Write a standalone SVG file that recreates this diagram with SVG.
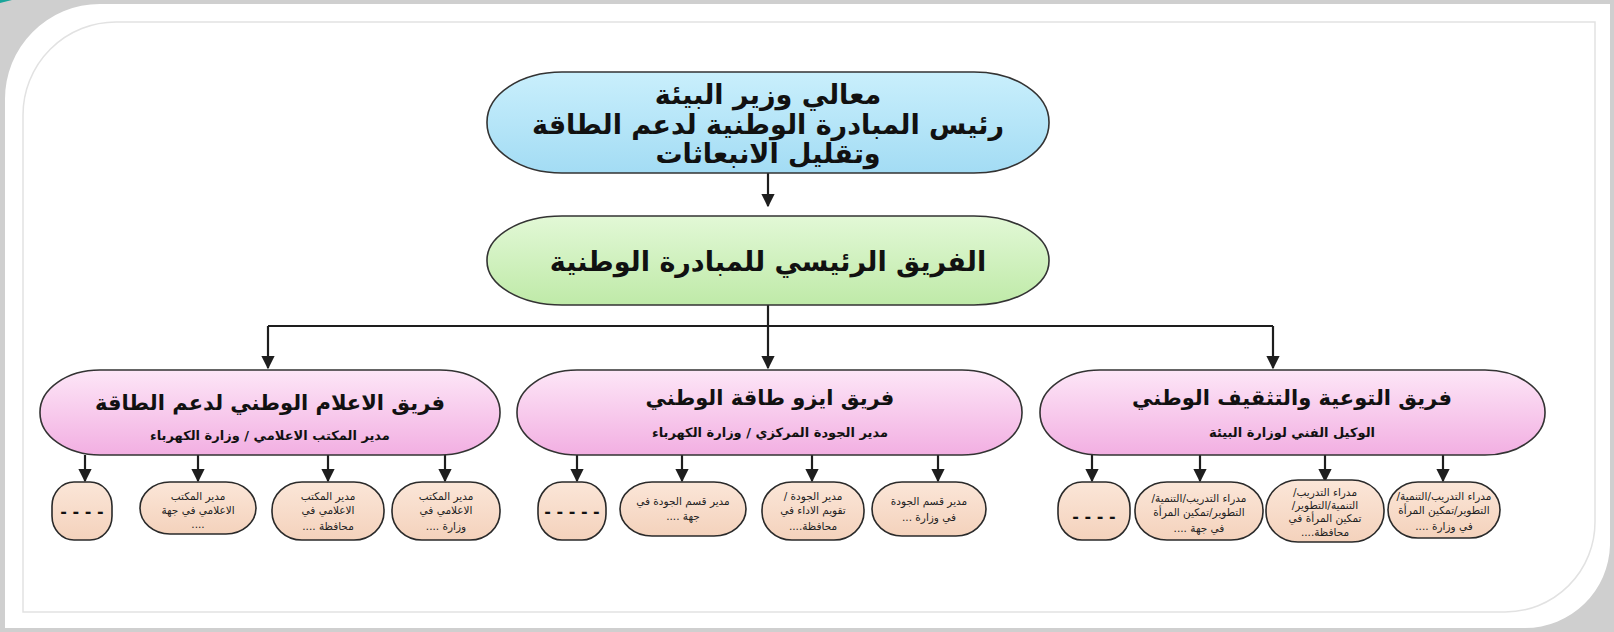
<svg xmlns="http://www.w3.org/2000/svg" width="1614" height="632" viewBox="0 0 1614 632">
<defs>
<linearGradient id="gBlue" x1="0" y1="0" x2="0" y2="1"><stop offset="0" stop-color="#c9effc"/><stop offset="1" stop-color="#a3dcf4"/></linearGradient>
<linearGradient id="gGreen" x1="0" y1="0" x2="0" y2="1"><stop offset="0" stop-color="#e2f8d6"/><stop offset="1" stop-color="#bfeaa8"/></linearGradient>
<linearGradient id="gPink" x1="0" y1="0" x2="0" y2="1"><stop offset="0" stop-color="#fde6f7"/><stop offset="1" stop-color="#f2afe2"/></linearGradient>
<linearGradient id="gPeach" x1="0" y1="0" x2="0" y2="1"><stop offset="0" stop-color="#fbe6d8"/><stop offset="1" stop-color="#f4d2bc"/></linearGradient>
<marker id="arr" viewBox="0 0 10 10" refX="9" refY="5" markerWidth="6" markerHeight="6" orient="auto" markerUnits="strokeWidth"><path d="M0,0 L10,5 L0,10 z" fill="#1e1e1e"/></marker>
</defs>
<style>
.t{font-family:"DejaVu Sans",sans-serif;font-weight:bold;fill:#111;text-anchor:middle;direction:rtl;unicode-bidi:embed}
.big{font-size:27px}
.mid{font-size:21px}
.sub{font-size:13px}
.leaf{font-size:10.5px;font-weight:normal;fill:#222}
.dash{font-size:16px;font-weight:bold;fill:#111}
.nb{stroke:#333;stroke-width:1.6}
.lf{fill:url(#gPeach);stroke:#2a2a2a;stroke-width:1.6}
.c{stroke:#1e1e1e;stroke-width:2.2;fill:none}
.c2{stroke:#1e1e1e;stroke-width:2.2;fill:none;marker-end:url(#arr)}
</style>
<rect width="1614" height="632" fill="#cfcfcf"/>
<path d="M0 0 L12 0 L0 3 Z" fill="#1aa59a"/>
<path d="M5 100 A95 95 0 0 1 100 4 L1610 4 L1610 545 A85 85 0 0 1 1525 628 L5 628 Z" fill="#ffffff"/>
<path d="M23 115 A93 93 0 0 1 116 22 L1595 22 L1595 522 A90 90 0 0 1 1505 612 L23 612 Z" fill="none" stroke="#e2e2e2" stroke-width="1.5"/>

<g id="connectors">
<path class="c2" d="M768 173 L768 206"/>
<path class="c" d="M768 305 L768 326"/>
<path class="c" d="M268 326 L1273 326"/>
<path class="c2" d="M268 326 L268 368"/>
<path class="c2" d="M768 326 L768 368"/>
<path class="c2" d="M1273 326 L1273 368"/>
<path class="c2" d="M85 455 L85 481"/>
<path class="c2" d="M198 455 L198 481"/>
<path class="c2" d="M328 455 L328 481"/>
<path class="c2" d="M445 455 L445 481"/>
<path class="c2" d="M577 455 L577 481"/>
<path class="c2" d="M682 455 L682 481"/>
<path class="c2" d="M812 455 L812 481"/>
<path class="c2" d="M938 455 L938 481"/>
<path class="c2" d="M1092 455 L1092 481"/>
<path class="c2" d="M1200 455 L1200 481"/>
<path class="c2" d="M1325 455 L1325 481"/>
<path class="c2" d="M1443 455 L1443 481"/>
</g>

<g id="minister">
<rect class="nb" x="487" y="72" width="562" height="101" rx="75" ry="50" fill="url(#gBlue)"/>
<text class="t big" x="768" y="104">معالي وزير البيئة</text>
<text class="t big" x="768" y="134">رئيس المبادرة الوطنية لدعم الطاقة</text>
<text class="t big" x="768" y="163">وتقليل الانبعاثات</text>
</g>

<g id="main-team">
<rect class="nb" x="487" y="216" width="562" height="89" rx="75" ry="44" fill="url(#gGreen)"/>
<text class="t big" x="768" y="271">الفريق الرئيسي للمبادرة الوطنية</text>
</g>

<g id="media-team">
<rect class="nb" x="40" y="370" width="460" height="85" rx="60" ry="42" fill="url(#gPink)"/>
<text class="t mid" x="270" y="410">فريق الاعلام الوطني لدعم الطاقة</text>
<text class="t sub" x="270" y="440">مدير المكتب الاعلامي / وزارة الكهرباء</text>
</g>

<g id="iso-team">
<rect class="nb" x="517" y="370" width="505" height="85" rx="60" ry="42" fill="url(#gPink)"/>
<text class="t mid" x="770" y="405">فريق ايزو طاقة الوطني</text>
<text class="t sub" x="770" y="437">مدير الجودة المركزي / وزارة الكهرباء</text>
</g>

<g id="awareness-team">
<rect class="nb" x="1040" y="370" width="505" height="85" rx="60" ry="42" fill="url(#gPink)"/>
<text class="t mid" x="1292" y="405">فريق التوعية والتثقيف الوطني</text>
<text class="t sub" x="1292" y="437">الوكيل الفني لوزارة البيئة</text>
</g>

<g id="media-leaf-1">
<rect class="lf" x="52" y="482" width="60" height="58" rx="22" ry="24"/>
<text class="t dash" x="82" y="517">- - - -</text>
</g>
<g id="media-leaf-2">
<rect class="lf" x="140" y="482" width="116" height="52" rx="30" ry="26"/>
<text class="t leaf" x="198" y="500">مدير المكتب</text>
<text class="t leaf" x="198" y="514">الاعلامي في جهة</text>
<text class="t leaf" x="198" y="528">....</text>
</g>
<g id="media-leaf-3">
<rect class="lf" x="272" y="482" width="112" height="58" rx="30" ry="28"/>
<text class="t leaf" x="328" y="500">مدير المكتب</text>
<text class="t leaf" x="328" y="514">الاعلامي في</text>
<text class="t leaf" x="328" y="530">محافظة ....</text>
</g>
<g id="media-leaf-4">
<rect class="lf" x="392" y="482" width="108" height="58" rx="30" ry="28"/>
<text class="t leaf" x="446" y="500">مدير المكتب</text>
<text class="t leaf" x="446" y="514">الاعلامي في</text>
<text class="t leaf" x="446" y="530">وزارة ....</text>
</g>

<g id="iso-leaf-1">
<rect class="lf" x="538" y="482" width="68" height="58" rx="24" ry="26"/>
<text class="t dash" x="572" y="517">- - - - -</text>
</g>
<g id="iso-leaf-2">
<rect class="lf" x="620" y="482" width="126" height="54" rx="32" ry="27"/>
<text class="t leaf" x="683" y="505">مدير قسم الجودة في</text>
<text class="t leaf" x="683" y="520">جهة ....</text>
</g>
<g id="iso-leaf-3">
<rect class="lf" x="762" y="482" width="102" height="58" rx="30" ry="28"/>
<text class="t leaf" x="813" y="500">مدير الجودة /</text>
<text class="t leaf" x="813" y="514">تقويم الاداء في</text>
<text class="t leaf" x="813" y="530">محافظة....</text>
</g>
<g id="iso-leaf-4">
<rect class="lf" x="872" y="482" width="114" height="54" rx="30" ry="27"/>
<text class="t leaf" x="929" y="505">مدير قسم الجودة</text>
<text class="t leaf" x="929" y="521">في وزارة ...</text>
</g>

<g id="aware-leaf-1">
<rect class="lf" x="1058" y="482" width="72" height="58" rx="24" ry="26"/>
<text class="t dash" x="1094" y="522">- - - -</text>
</g>
<g id="aware-leaf-2">
<rect class="lf" x="1135" y="482" width="128" height="58" rx="32" ry="28"/>
<text class="t leaf" x="1199" y="502">مدراء التدريب/التنمية/</text>
<text class="t leaf" x="1199" y="516">التطوير/تمكين المرأة</text>
<text class="t leaf" x="1199" y="532">في جهة ....</text>
</g>
<g id="aware-leaf-3">
<rect class="lf" x="1266" y="480" width="118" height="62" rx="32" ry="30"/>
<text class="t leaf" x="1325" y="496">مدراء التدريب/</text>
<text class="t leaf" x="1325" y="509">التنمية/التطوير/</text>
<text class="t leaf" x="1325" y="522">تمكين المرأة في</text>
<text class="t leaf" x="1325" y="536">محافظة....</text>
</g>
<g id="aware-leaf-4">
<rect class="lf" x="1388" y="482" width="112" height="56" rx="30" ry="28"/>
<text class="t leaf" x="1444" y="500">مدراء التدريب/التنمية/</text>
<text class="t leaf" x="1444" y="514">التطوير/تمكين المرأة</text>
<text class="t leaf" x="1444" y="530">في وزارة ....</text>
</g>
</svg>
